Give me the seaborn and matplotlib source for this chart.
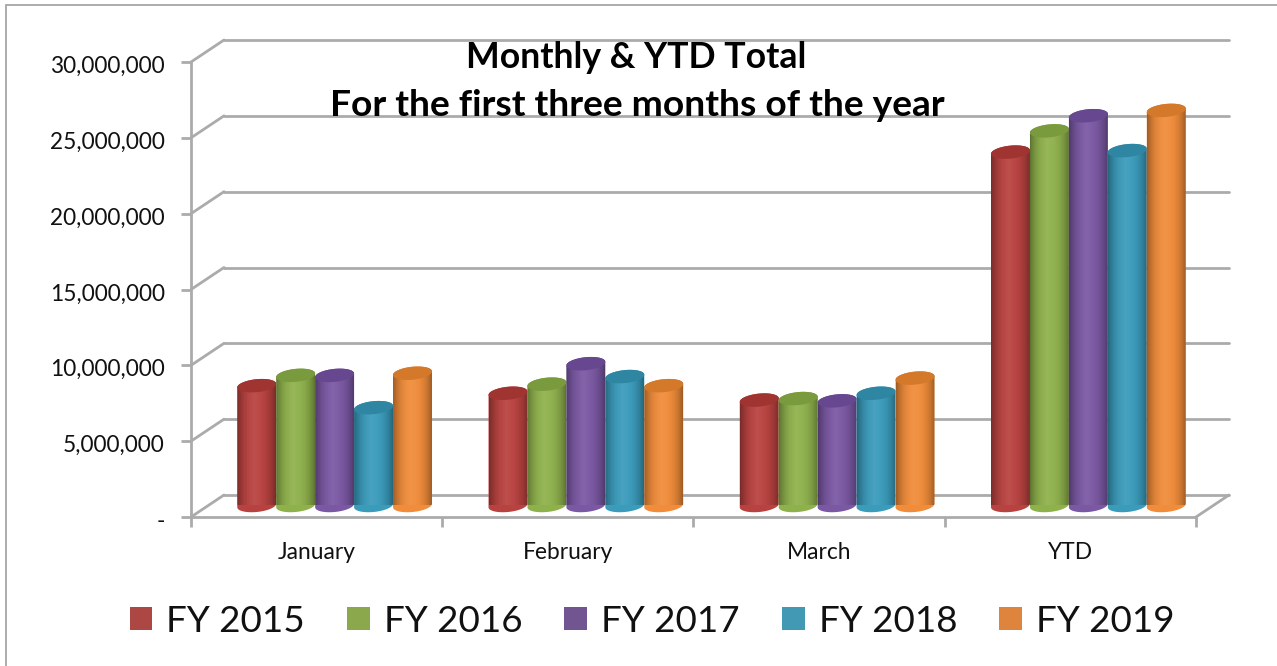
import numpy as np
import pandas as pd
import matplotlib
matplotlib.use("Agg")
import matplotlib.pyplot as plt
import seaborn as sns
from matplotlib.lines import Line2D
from matplotlib.patches import PathPatch, Patch, Rectangle
from matplotlib.path import Path
from matplotlib.ticker import FuncFormatter
from matplotlib.transforms import ScaledTranslation

months = ["January", "February", "March", "YTD"]
years = ["FY 2015", "FY 2016", "FY 2017", "FY 2018", "FY 2019"]
fy2015 = [7900000, 7400000, 6950000, 23300000]
fy2016 = [8580000, 8000000, 7050000, 24700000]
fy2017 = [8580000, 9350000, 6900000, 25700000]
fy2018 = [6450000, 8500000, 7400000, 23400000]
fy2019 = [8720000, 7900000, 8400000, 26050000]
y_ticks = [0, 5000000, 10000000, 15000000, 20000000, 25000000, 30000000]

colors = ["#B8423F", "#8FB14C", "#7A58A3", "#3A9BBB", "#F08C3A"]
tops = ["#A03430", "#7A9A3E", "#664790", "#2F86A3", "#D4782A"]
legend_colors = ["#AD4744", "#8BA84C", "#705590", "#4199B3", "#DE843C"]
grid_c = "#ABABAB"

W, H = 1277, 666

sns.set_theme(style="white")
plt.rcParams["font.family"] = ["Lato", "DejaVu Sans"]

df = pd.DataFrame({"month": months * 5,
                   "year": [y for y in years for _ in months],
                   "value": fy2015 + fy2016 + fy2017 + fy2018 + fy2019})

fig = plt.figure(figsize=(W / 100, H / 100), dpi=100, facecolor="white")


# axes from pixel box (y counted from the top of the image)
def box_axes(left, right, top, bottom, z):
    a = fig.add_axes([left / W, 1 - bottom / H, (right - left) / W, (bottom - top) / H])
    a.set_xlim(-0.5, 3.5)
    a.set_ylim(0, 30000000)
    a.patch.set_alpha(0)
    a.set_zorder(z)
    return a


# the three depth planes of the fake 3d box
ax_back = box_axes(224, 1229, 40, 495, 1)
ax_bar = box_axes(209, 1214, 50.5, 505.5, 2)
ax = box_axes(191, 1196, 62, 517, 3)

# back wall and floor lines
ax_back.axis("off")
for v in y_ticks:
    ax_back.axhline(v, color=grid_c, lw=2, clip_on=False)

# diagonals from the front edge to the back wall
val_per_px = 30000000 / 455
for v in y_ticks:
    y_px = 517 - v / val_per_px
    ax.add_line(Line2D([191 / W, 224 / W], [1 - y_px / H, 1 - (y_px - 22) / H],
                       transform=fig.transFigure, color=grid_c, lw=2, clip_on=False))
ax.add_line(Line2D([1196 / W, 1229 / W], [1 - 517 / H, 1 - 495 / H],
                   transform=fig.transFigure, color=grid_c, lw=2, clip_on=False))

# bars
sns.barplot(data=df, x="month", y="value", hue="year", order=months, hue_order=years,
            palette=colors, width=0.775, gap=0, saturation=1, ax=ax_bar, legend=False)
ax_bar.axis("off")

ell_h = 13 * val_per_px   # ellipse height
shear = 1.8 * val_per_px  # little tilt of the ellipses
shade = np.zeros((1, 64, 4))
s = np.linspace(-1, 1, 64)
shade[0, :, 3] = 0.34 * np.abs(s) ** 2.6
light = np.ones((1, 64, 4))
light[0, :, 3] = 0.07 * (1 - np.abs(s + 0.1)) ** 2

t1 = np.linspace(0, np.pi, 40)
t2 = np.linspace(np.pi, 2 * np.pi, 40)
n_m = len(months)
for i, bar in enumerate(list(ax_bar.patches)[:n_m * len(years)]):
    hue_i = i // n_m
    x0, w, h = bar.get_x(), bar.get_width(), bar.get_height()
    xc = x0 + w / 2
    bar.set_visible(False)
    z = 3 + hue_i

    # body : lower half of bottom ellipse, then upper half of top ellipse
    bx = xc + w / 2 * np.cos(t2)
    by = ell_h / 2 * np.sin(t2) + shear * np.cos(t2)
    tx = xc + w / 2 * np.cos(t1)
    ty = h + ell_h / 2 * np.sin(t1) + shear * np.cos(t1)
    body = Path(np.c_[np.r_[bx, tx], np.r_[by, ty]])
    ax_bar.add_patch(PathPatch(body, fc=colors[hue_i], ec="none", zorder=z, clip_on=False))

    for img in [shade, light]:
        im = ax_bar.imshow(img, extent=[x0, x0 + w, -ell_h, h + ell_h], aspect="auto",
                           zorder=z + 0.1, interpolation="bilinear")
        im.set_clip_path(body, transform=ax_bar.transData)

    # darker top cap
    cx = xc + w / 2 * np.cos(np.r_[t1, t2])
    cy = h + ell_h / 2 * np.sin(np.r_[t1, t2]) + shear * np.cos(np.r_[t1, t2])
    ax_bar.add_patch(PathPatch(Path(np.c_[cx, cy]), fc=tops[hue_i], ec="none",
                               zorder=z + 0.2, clip_on=False))
ax_bar.set_xlim(-0.5, 3.5)
ax_bar.set_ylim(0, 30000000)

# front axes
for name in ["top", "right"]:
    ax.spines[name].set_visible(False)
for name in ["left", "bottom"]:
    ax.spines[name].set_color(grid_c)
    ax.spines[name].set_linewidth(2)
ax.set_yticks(y_ticks)
ax.yaxis.set_major_formatter(FuncFormatter(lambda v, p: "-" if v == 0 else f"{int(v):,}"))
ax.set_xticks(np.arange(-0.5, 4, 1))
ax.set_xticklabels([])
ax.set_xticks(np.arange(len(months)), labels=months, minor=True)
ax.tick_params(axis="y", which="major", left=True, length=7, width=2, color=grid_c,
               labelsize=16.3, labelcolor="#111111", pad=12)
ax.tick_params(axis="x", which="major", bottom=True, length=7, width=2, color=grid_c)
ax.tick_params(axis="x", which="minor", bottom=False, length=0, labelsize=16.4,
               labelcolor="#111111", pad=18)
ax.set_xlabel("")
ax.set_ylabel("")
# labels sit a bit under their ticks in the original
nudge = ScaledTranslation(0, -2.5 / 72 * 0.72, fig.dpi_scale_trans)
for lab in ax.get_yticklabels():
    lab.set_transform(lab.get_transform() + nudge)

# title over the chart
fig.text(636.5 / W, 1 - 57 / H, "Monthly & YTD Total", ha="center", va="center",
         fontsize=25.7, fontweight="bold", color="black", zorder=10)
fig.text(637.5 / W, 1 - 106 / H, "For the first three months of the year", ha="center", va="center",
         fontsize=26.7, fontweight="bold", color="black", zorder=10)

# legend
handles = [Patch(fc=c, ec="none") for c in legend_colors]
fig.legend(handles, years, loc="center", bbox_to_anchor=(652 / W, 1 - 621 / H), ncol=5,
           frameon=False, fontsize=26.5, handlelength=0.62, handleheight=0.62,
           handletextpad=0.38, columnspacing=1.14, labelcolor="#111111")

# outer frame of the chart
fig.add_artist(Rectangle((5.5 / W, -0.02), 1.1, 1 - 4.5 / H + 0.02, transform=fig.transFigure,
                         fc="none", ec="#A6A6A6", lw=1.3))

fig.savefig("out.png", dpi=100)
